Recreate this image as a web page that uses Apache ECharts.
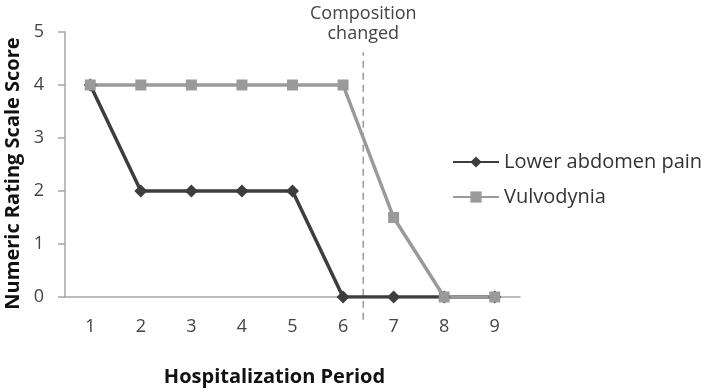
<!DOCTYPE html>
<html>
<head>
<meta charset="utf-8">
<script src="https://cdn.jsdelivr.net/npm/echarts@6/dist/echarts.min.js"></script>
<style>
  html, body { margin: 0; padding: 0; background: #fff; }
  #chart { width: 712px; height: 392px; }
</style>
</head>
<body>
<div id="chart"></div>
<script>
const periods = ["1", "2", "3", "4", "5", "6", "7", "8", "9"];
const lowerAbdomenPain = [4, 2, 2, 2, 2, 0, 0, 0, 0];
const vulvodynia = [4, 4, 4, 4, 4, 4, 1.5, 0, 0];
const yTicks = [0, 1, 2, 3, 4, 5];
// where the composition changed, in period units (between 6 and 7),
// and how far the dashed marker runs in score units
const changeAt = 6.4;
const changeFrom = -0.43;
const changeTo = 4.62;
const changeLabel = "Composition\nchanged";

const font = "Open Sans";
const chart = echarts.init(document.getElementById("chart"));

chart.setOption({
  animation: false,
  textStyle: { fontFamily: font },
  grid: { left: 65, right: 192, top: 32, bottom: 95, outerBoundsMode: "none" },
  legend: {
    orient: "vertical",
    left: 447,
    top: 147,
    itemWidth: 46,
    itemHeight: 14,
    itemGap: 15,
    textStyle: { fontSize: 20, color: "#333", fontFamily: font },
    data: ["Lower abdomen pain", "Vulvodynia"],
  },
  xAxis: [
    {
      type: "category",
      data: periods,
      boundaryGap: true,
      name: "Hospitalization Period",
      nameLocation: "middle",
      nameGap: 70,
      nameTextStyle: {
        fontSize: 20, fontWeight: "bold", color: "#111", fontFamily: font,
        padding: [0, 36, 0, 0],
      },
      axisLine: { lineStyle: { color: "#a6a6a6", width: 1.5 } },
      axisTick: { show: false },
      axisLabel: { fontSize: 18, color: "#444", margin: 21 },
    },
    {
      type: "value",
      min: 0.5,
      max: 9.5,
      show: false,
    },
  ],
  yAxis: {
    type: "value",
    min: yTicks[0],
    max: yTicks[yTicks.length - 1],
    interval: 1,
    name: "Numeric Rating Scale Score",
    nameLocation: "middle",
    nameGap: 38,
    nameTextStyle: {
      fontSize: 20, fontWeight: "bold", color: "#111", fontFamily: font,
      padding: [0, 18, 0, 0],
    },
    axisLine: { show: true, lineStyle: { color: "#a6a6a6", width: 1.5 } },
    axisTick: { show: true, length: 7, lineStyle: { color: "#a6a6a6", width: 1.5 } },
    splitLine: { show: false },
    axisLabel: { fontSize: 18, color: "#444", margin: 21 },
  },
  series: [
    {
      name: "change",
      type: "custom",
      xAxisIndex: 1,
      silent: true,
      clip: false,
      data: [[changeAt, changeFrom, changeTo]],
      renderItem: function (params, api) {
        const bottom = api.coord([api.value(0), api.value(1)]);
        const top = api.coord([api.value(0), api.value(2)]);
        return {
          type: "group",
          children: [
            {
              type: "line",
              shape: { x1: bottom[0], y1: bottom[1], x2: top[0], y2: top[1] },
              style: { stroke: "#999", lineWidth: 1.5, lineDash: [7, 5] },
            },
            {
              type: "text",
              x: top[0],
              y: top[1] - 8,
              style: {
                text: changeLabel,
                fill: "#444",
                font: "18px " + font,
                lineHeight: 20,
                align: "center",
                verticalAlign: "bottom",
              },
            },
          ],
        };
      },
    },
    {
      name: "Lower abdomen pain",
      type: "line",
      data: lowerAbdomenPain,
      symbol: "diamond",
      symbolSize: 13,
      lineStyle: { color: "#3d3d3d", width: 3.5 },
      itemStyle: { color: "#3d3d3d" },
    },
    {
      name: "Vulvodynia",
      type: "line",
      data: vulvodynia,
      symbol: "rect",
      symbolSize: 11,
      lineStyle: { color: "#9a9a9a", width: 3.5 },
      itemStyle: { color: "#9a9a9a" },
    },
  ],
});
</script>
</body>
</html>
